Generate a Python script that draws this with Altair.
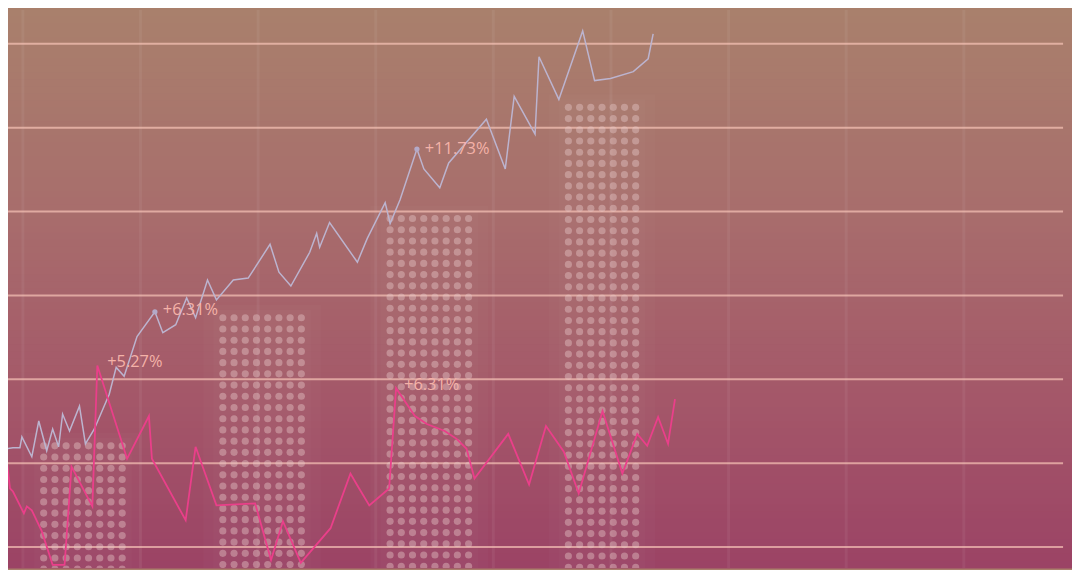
import altair as alt
import pandas as pd
import numpy as np

W, H = 1072, 562
X_DOMAIN = [8, 1080]
Y_DOMAIN = [-21, 541]

# gridline levels
h_levels = [0, 84.5, 169, 253.5, 338, 422.5, 507]
v_levels = [23, 141.5, 260, 378.5, 497, 615.5, 734, 852.5, 971]

# blue-grey series
blue_x = [0, 5, 13, 20, 22, 32, 39, 47, 53, 59, 63, 70, 80, 86, 95, 110, 117, 125, 138, 156,
          164, 177, 188, 197, 209, 218, 235, 250, 272, 281, 293, 312, 319, 322, 332, 360, 370,
          388, 393, 403, 420, 427, 443, 452, 490, 509, 518, 539, 543, 563, 587, 599, 615, 638,
          653, 658]
blue_y = [69, 99, 100, 100, 111, 91, 127, 97, 119, 101, 134, 117, 142, 104, 119, 154, 181, 172,
          212, 237, 216, 224, 251, 231, 269, 249, 269, 271, 305, 277, 263, 297, 316, 302, 327,
          287, 311, 347, 326, 350, 401, 381, 362, 387, 431, 381, 454, 416, 494, 451, 520, 470,
          472, 479, 492, 517]

# pink series
pink_x = [0, 5, 10, 13, 24, 27, 32, 42, 53, 65, 72, 93, 98, 128, 150, 153, 187, 197, 218, 257,
          273, 285, 303, 333, 353, 360, 372, 392, 399, 418, 430, 448, 460, 470, 478, 512, 533,
          550, 568, 583, 607, 627, 642, 652, 663, 673, 680]
pink_y = [119, 104, 59, 56, 34, 41, 37, 16, -18, -18, 81, 41, 183, 89, 132, 89, 27, 101, 42, 44,
          -13, 26, -16, 19, 74, 62, 42, 59, 160, 132, 124, 117, 109, 99, 69, 114, 63, 122, 96,
          54, 137, 74, 114, 102, 131, 104, 149]

# dotted bars
bar_x = [83.5, 264, 432.5, 606.5]
bar_top = [102, 231, 331, 443]
bar_cols = [8, 8, 8, 7]
DOT_STEP = 11.3

# labels
label_text = ["+5.27%", "+6.31%", "+11.73%", "+6.31%"]
label_x = [108, 164, 428, 407]
label_y = [186, 239, 401, 163]

# highlighted points
blue_mark_x = [156, 420]
blue_mark_y = [237, 401]

# background colour stops (top -> bottom)
bg_stops = [(0.0, (0xa9, 0x80, 0x6c)), (0.35, (0xa8, 0x6e, 0x6c)),
            (0.7, (0xa4, 0x57, 0x69)), (1.0, (0x9b, 0x43, 0x65))]

xs = alt.Scale(domain=X_DOMAIN, nice=False, zero=False)
ys = alt.Scale(domain=Y_DOMAIN, nice=False, zero=False)


def X(f):
    return alt.X(f, scale=xs, axis=None)


def Y(f):
    return alt.Y(f, scale=ys, axis=None)


def interp_color(t):
    for (t0, c0), (t1, c1) in zip(bg_stops[:-1], bg_stops[1:]):
        if t0 <= t <= t1:
            f = (t - t0) / (t1 - t0)
            c = [round(a + (b - a) * f) for a, b in zip(c0, c1)]
            return "#%02x%02x%02x" % tuple(c)
    return "#%02x%02x%02x" % bg_stops[-1][1]


N_BANDS = 80
band_edges = np.linspace(Y_DOMAIN[1], Y_DOMAIN[0], N_BANDS + 1)
bands = pd.DataFrame({
    "x1": [X_DOMAIN[0]] * N_BANDS,
    "x2": [X_DOMAIN[1]] * N_BANDS,
    "y1": band_edges[:-1] + 0.5,
    "y2": band_edges[1:] - 0.5,
    "c": [interp_color((i + 0.5) / N_BANDS) for i in range(N_BANDS)],
})
bg = alt.Chart(bands).mark_rect(strokeWidth=0).encode(
    x=X("x1:Q"), x2="x2:Q", y=Y("y1:Q"), y2="y2:Q",
    color=alt.Color("c:N", scale=None, legend=None),
)

vgrid = alt.Chart(pd.DataFrame({"x": v_levels})).mark_rule(
    color="#ffffff", opacity=0.055, strokeWidth=3
).encode(x=X("x:Q"))

hgrid = alt.Chart(pd.DataFrame({"y": h_levels, "x1": [X_DOMAIN[0]] * 7, "x2": [1071] * 7})).mark_rule(
    color="#f8c4b8", opacity=0.7, strokeWidth=2
).encode(y=Y("y:Q"), x=X("x1:Q"), x2="x2:Q")

# soft glow behind bars (two nested translucent layers)
glow_rows = []
for bx, top, n in zip(bar_x, bar_top, bar_cols):
    half = n * DOT_STEP / 2
    for pad in (4, 14):
        glow_rows.append({"x1": bx - half - pad, "x2": bx + half + pad,
                          "y1": top + 6 + pad / 2, "y2": -30})
glow = alt.Chart(pd.DataFrame(glow_rows)).mark_rect(color="#ffffff", opacity=0.018, clip=True).encode(
    x=X("x1:Q"), x2="x2:Q", y=Y("y1:Q"), y2="y2:Q"
)

rows = []
for bx, top, n in zip(bar_x, bar_top, bar_cols):
    offs = (np.arange(n) - (n - 1) / 2) * DOT_STEP
    v = top
    while v >= -30:
        for o in offs:
            rows.append({"x": float(bx + o), "y": float(v)})
        v -= DOT_STEP
dots = alt.Chart(pd.DataFrame(rows)).mark_circle(
    size=52, color="#e8c8c8", opacity=0.42, clip=True
).encode(x=X("x:Q"), y=Y("y:Q"))

blue = alt.Chart(pd.DataFrame({"x": blue_x, "y": blue_y, "o": list(range(len(blue_x)))})).mark_line(
    color="#bcb4cf", strokeWidth=1.5, clip=True
).encode(x=X("x:Q"), y=Y("y:Q"), order="o:Q")

pink = alt.Chart(pd.DataFrame({"x": pink_x, "y": pink_y, "o": list(range(len(pink_x)))})).mark_line(
    color="#ea3f8a", strokeWidth=1.8, clip=True
).encode(x=X("x:Q"), y=Y("y:Q"), order="o:Q")

bmarks = alt.Chart(pd.DataFrame({"x": blue_mark_x, "y": blue_mark_y})).mark_circle(
    size=28, color="#b4aac8", opacity=1
).encode(x=X("x:Q"), y=Y("y:Q"))

labels = alt.Chart(pd.DataFrame({"t": label_text, "x": label_x, "y": label_y})).mark_text(
    align="left", baseline="middle", font="Open Sans", fontSize=16.5, color="#f4b2a8"
).encode(x=X("x:Q"), y=Y("y:Q"), text="t:N")

chart = alt.layer(bg, vgrid, glow, hgrid, dots, blue, pink, bmarks, labels).properties(
    width=W, height=H, padding=0, autosize=alt.AutoSizeParams(type="none"),
    background="#a97f6b",
).configure_view(stroke=None)

chart.save("out.html", embed_options={"renderer": "svg", "actions": False})
